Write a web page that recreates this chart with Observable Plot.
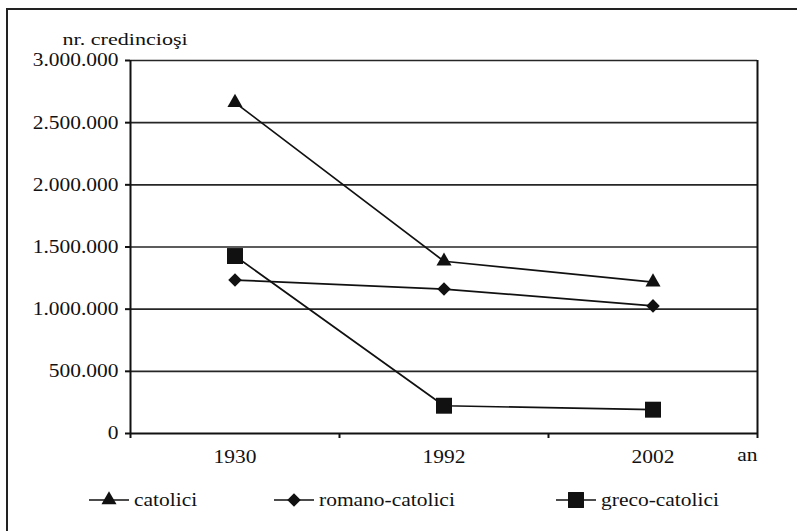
<!DOCTYPE html>
<html><head><meta charset="utf-8">
<script src="https://cdn.jsdelivr.net/npm/d3@7"></script>
<script src="https://cdn.jsdelivr.net/npm/@observablehq/plot@0.6"></script>
<style>
html,body{margin:0;padding:0;background:#fff;overflow:hidden}
#wrap{position:relative;width:797px;height:531px;overflow:hidden;font-family:'Liberation Serif';color:#111;background:#fff}
#frame{position:absolute;left:6px;top:8px;width:900px;height:700px;border-left:2px solid #222;border-top:2px solid #222;box-sizing:border-box}
#chart{position:absolute;left:0;top:0}
#legend{position:absolute;left:0;top:487px;width:797px;height:26px}
.item{position:absolute;top:0;height:26px;display:flex;align-items:center}
.item span{font-family:'Liberation Serif';font-size:18.5px;display:inline-block;transform:scaleX(1.16);transform-origin:left center;margin-left:5px;line-height:26px}
</style>
</head><body>
<div id="wrap"><div id="frame"></div><div id="chart"></div><div id="legend"></div></div>
<script>
const years = ["1930", "1992", "2002"];
const catolici = [2661542, 1385269, 1217985];
const romanoCatolici = [1234151, 1161942, 1026429];
const grecoCatolici = [1427391, 223327, 191556];
const seriesNames = ["catolici", "romano-catolici", "greco-catolici"];
const seriesSymbols = ["triangle", "diamond2", "square"];
const yTicks = [0, 500000, 1000000, 1500000, 2000000, 2500000, 3000000];
const yTickLabels = ["0", "500.000", "1.000.000", "1.500.000", "2.000.000", "2.500.000", "3.000.000"];
const yLabel = "nr. credincioşi";
const xLabel = "an";

const ink = "#111";
const serif = "Liberation Serif";
const symbolR = {triangle: 5.6, diamond2: 6.1, square: 9};
const legendLeft = [89, 274, 556];

const values = [catolici, romanoCatolici, grecoCatolici];
const data = seriesNames.flatMap((s, si) => years.map((yr, i) => ({
  series: s, pos: i + 0.5, year: yr, value: values[si][i]
})));
const bounds = d3.range(years.length + 1);
const centers = years.map((_, i) => i + 0.5);

const lines = seriesNames.map(s => Plot.line(data.filter(d => d.series === s), {x: "pos", y: "value", stroke: ink, strokeWidth: 1.7}));
const dots = seriesNames.map((s, si) => Plot.dot(data.filter(d => d.series === s), {
  x: "pos", y: "value", symbol: () => seriesSymbols[si], r: symbolR[seriesSymbols[si]], fill: ink, stroke: "none"
}));

const chart = Plot.plot({
  width: 797, height: 480,
  marginLeft: 130, marginRight: 40, marginTop: 60, marginBottom: 47,
  style: {fontFamily: serif, fontSize: "18.5px", color: ink, background: "transparent", overflow: "visible"},
  x: {type: "linear", domain: [0, years.length]},
  y: {domain: [0, 3000000]},
  symbol: {type: "identity"},
  marks: [
    Plot.ruleY(yTicks.filter(d => d > 0), {stroke: "#262626", strokeWidth: 1.7}),
    Plot.ruleX([years.length], {stroke: ink, strokeWidth: 2}),
    Plot.axisY(yTicks, {tickFormat: d => yTickLabels[yTicks.indexOf(d)], tickSize: 5, tickPadding: 7, strokeWidth: 2, label: null, stroke: ink, fill: ink, fontFamily: serif}),
    Plot.axisX(bounds, {tickFormat: () => "", tickSize: 5, strokeWidth: 2, label: null, stroke: ink}),
    Plot.axisX(centers, {tickFormat: d => years[Math.floor(d)], tickSize: 0, tickPadding: 16, label: null, fill: ink, fontFamily: serif}),
    Plot.ruleX([0], {stroke: ink, strokeWidth: 2}),
    Plot.ruleY([0], {stroke: ink, strokeWidth: 2}),
    ...lines,
    ...dots,
    Plot.text([yLabel], {text: d => d, frameAnchor: "top-left", dx: -68, dy: -28, textAnchor: "start", fontSize: 17, fill: ink, fontFamily: serif}),
    Plot.text([xLabel], {text: d => d, frameAnchor: "bottom-right", dy: 27, fontSize: 18.5, fill: ink, fontFamily: serif})
  ]
});
document.getElementById("chart").appendChild(chart);

// widen glyphs slightly to match the reference's wide serif lettering
d3.select(chart).selectAll("text").each(function() {
  const t = this.textContent;
  if (!t) return;
  const k = t === yLabel ? 1.3 : 1.16;
  const L = this.getComputedTextLength();
  this.setAttribute("textLength", L * k);
  this.setAttribute("lengthAdjust", "spacingAndGlyphs");
});

// legend
const legend = d3.select("#legend");
seriesNames.forEach((s, si) => {
  const item = legend.append("div").attr("class", "item").style("left", legendLeft[si] + "px");
  const svg = item.append("svg").attr("width", 40).attr("height", 26);
  svg.append("line").attr("x1", 0).attr("x2", 40).attr("y1", 13).attr("y2", 13).attr("stroke", ink).attr("stroke-width", 1.7);
  const sym = {triangle: d3.symbolTriangle, diamond2: d3.symbolDiamond2, square: d3.symbolSquare}[seriesSymbols[si]];
  const r = symbolR[seriesSymbols[si]];
  svg.append("path").attr("transform", "translate(20,13)").attr("d", d3.symbol(sym, Math.PI * r * r)()).attr("fill", ink);
  item.append("span").text(s);
});
</script>
</body></html>
